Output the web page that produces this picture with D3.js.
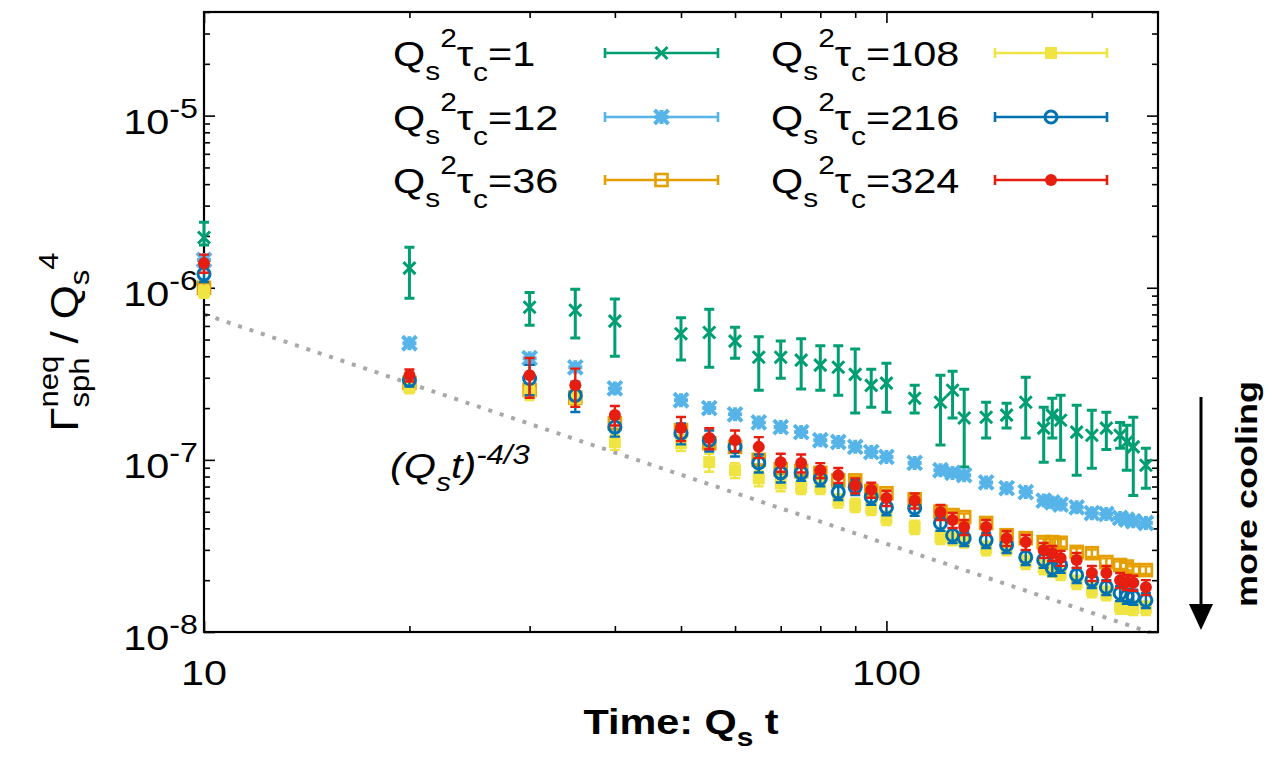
<!DOCTYPE html>
<html><head><meta charset="utf-8">
<script src="https://cdn.jsdelivr.net/npm/d3@7"></script>
<style>body{margin:0;background:#fff} text{font-family:"Liberation Sans",Arial,Helvetica,sans-serif}</style>
</head><body><svg id="c" width="1272" height="760"></svg>
<script>
// ---------------- DATA ----------------
const times = [10,20,30,35,40,50,55,60,65,70,75,80,85,90,95,100,110,120,125,130,140,150,160,170,175,180,190,200,210,220,225,230,240];

const tau1   = [1.96e-6,1.30e-6,7.7e-7,7.4e-7,6.4e-7,5.4e-7,5.5e-7,4.9e-7,3.95e-7,3.95e-7,3.8e-7,3.55e-7,3.45e-7,3.14e-7,2.71e-7,2.79e-7,2.28e-7,2.16e-7,2.54e-7,1.75e-7,1.77e-7,1.82e-7,2.16e-7,1.53e-7,1.82e-7,1.70e-7,1.45e-7,1.39e-7,1.53e-7,1.39e-7,1.27e-7,1.19e-7,9.3e-8];
const tau1Lo = [1.77e-6,8.7e-7,6.05e-7,5.1e-7,4.0e-7,3.8e-7,3.45e-7,3.9e-7,2.54e-7,2.98e-7,2.58e-7,2.54e-7,2.37e-7,1.87e-7,2.02e-7,1.89e-7,1.87e-7,1.22e-7,1.75e-7,9.1e-8,1.34e-7,1.53e-7,1.34e-7,9.7e-8,1.34e-7,9.96e-8,8.15e-8,8.95e-8,1.15e-7,1.17e-7,8.7e-8,6.2e-8,6.85e-8];
const tau1Hi = [2.4e-6,1.72e-6,9.4e-7,9.8e-7,8.6e-7,6.7e-7,7.5e-7,5.9e-7,5.2e-7,4.9e-7,5.05e-7,4.6e-7,4.6e-7,4.4e-7,3.36e-7,3.64e-7,2.71e-7,3.1e-7,3.27e-7,2.57e-7,2.16e-7,2.13e-7,3.02e-7,2.02e-7,2.28e-7,2.37e-7,2.08e-7,1.94e-7,1.89e-7,1.65e-7,1.59e-7,1.77e-7,1.17e-7];

const tau12  = [1.45e-6,4.76e-7,3.9e-7,3.45e-7,2.6e-7,2.22e-7,2.0e-7,1.84e-7,1.65e-7,1.55e-7,1.45e-7,1.30e-7,1.27e-7,1.19e-7,1.11e-7,1.04e-7,9.6e-8,8.7e-8,8.4e-8,8.15e-8,7.4e-8,6.85e-8,6.5e-8,5.8e-8,5.66e-8,5.5e-8,5.3e-8,4.9e-8,4.85e-8,4.6e-8,4.5e-8,4.4e-8,4.3e-8];
const tau12Err = [0.05,0.04,0.05,0.05,0.06,0.05,0.05,0.04,0.04,0.04,0.04,0.04,0.04,0.04,0.04,0.04,0.04,0.04,0.04,0.04,0.04,0.04,0.04,0.04,0.04,0.04,0.04,0.04,0.04,0.04,0.04,0.04,0.04];

const tau36  = [1.0e-6,2.8e-7,2.55e-7,2.3e-7,1.63e-7,1.49e-7,1.25e-7,1.19e-7,1.0e-7,8.8e-8,8.6e-8,8.4e-8,7.6e-8,7.6e-8,6.6e-8,6.4e-8,5.9e-8,5.0e-8,4.78e-8,4.65e-8,4.3e-8,3.65e-8,3.51e-8,3.33e-8,3.33e-8,3.3e-8,2.92e-8,2.87e-8,2.55e-8,2.45e-8,2.4e-8,2.29e-8,2.29e-8];
const tau36Err = [0.06,0.05,0.08,0.08,0.07,0.07,0.06,0.06,0.06,0.06,0.05,0.05,0.05,0.05,0.05,0.05,0.05,0.05,0.05,0.05,0.05,0.05,0.05,0.05,0.05,0.05,0.05,0.05,0.05,0.05,0.05,0.05,0.05];

const tau108 = [9.5e-7,2.65e-7,2.47e-7,2.28e-7,1.27e-7,1.25e-7,9.7e-8,8.7e-8,7.8e-8,7.3e-8,6.95e-8,6.95e-8,5.8e-8,5.46e-8,5.25e-8,4.6e-8,4.07e-8,3.56e-8,3.5e-8,3.4e-8,3.07e-8,3.07e-8,2.55e-8,2.38e-8,2.3e-8,2.2e-8,1.95e-8,1.75e-8,1.68e-8,1.4e-8,1.4e-8,1.38e-8,1.38e-8];
const tau108Err = [0.08,0.08,0.1,0.1,0.1,0.1,0.12,0.1,0.1,0.1,0.09,0.09,0.09,0.09,0.09,0.09,0.09,0.09,0.09,0.09,0.09,0.09,0.09,0.09,0.09,0.09,0.09,0.09,0.09,0.09,0.09,0.09,0.09];

const tau216 = [1.2e-6,2.9e-7,2.97e-7,2.37e-7,1.55e-7,1.43e-7,1.30e-7,1.19e-7,9.6e-8,8.4e-8,8.4e-8,7.8e-8,6.5e-8,6.95e-8,6.1e-8,5.3e-8,5.25e-8,4.3e-8,3.65e-8,3.51e-8,3.42e-8,3.2e-8,2.72e-8,2.62e-8,2.35e-8,2.45e-8,2.14e-8,2.0e-8,1.82e-8,1.68e-8,1.62e-8,1.6e-8,1.53e-8];
const tau216Err = [0.1,0.08,0.2,0.2,0.12,0.14,0.14,0.12,0.12,0.12,0.1,0.1,0.1,0.1,0.1,0.1,0.1,0.1,0.1,0.1,0.1,0.1,0.1,0.1,0.1,0.1,0.1,0.1,0.1,0.1,0.1,0.1,0.1];

const tau324 = [1.39e-6,3.1e-7,3.1e-7,2.71e-7,1.82e-7,1.53e-7,1.34e-7,1.30e-7,1.19e-7,9.7e-8,9.6e-8,8.7e-8,8.15e-8,7.1e-8,6.7e-8,6.0e-8,5.8e-8,4.97e-8,4.47e-8,4.07e-8,4.07e-8,3.51e-8,3.33e-8,2.99e-8,2.87e-8,2.69e-8,2.62e-8,2.2e-8,2.2e-8,2.0e-8,1.95e-8,1.93e-8,1.82e-8];
const tau324Err = [0.12,0.08,0.26,0.25,0.13,0.16,0.14,0.14,0.14,0.12,0.12,0.1,0.1,0.1,0.1,0.1,0.1,0.1,0.1,0.1,0.1,0.1,0.1,0.1,0.1,0.1,0.1,0.1,0.1,0.1,0.1,0.1,0.1];

const seriesLabels = ["1","12","36","108","216","324"];
const seriesColors = ["#009e73","#56b4e9","#e69f00","#f0e442","#0072b2","#e51e10"];
const seriesMarkers = ["x","star","osq","fsq","ocirc","fcirc"];
const xTickLabels = [10,100];
const yTickExps = [-8,-7,-6,-5];
const powerLawAmp = 1.51e-5, powerLawExp = -4/3;

// ---------------- LAYOUT ----------------
const svg = d3.select("#c");
const L=204, R=1158, T=12, B=632;
const x = d3.scaleLog().domain([10,250]).range([L,R]);
const y = d3.scaleLog().domain([1e-8,4e-5]).range([B,T]);
const SX = 1.15;
const NB = "\u00a0";

function rich(parent, px, py, parts, o={}) {
  const anchor=o.anchor||0, rot=o.rotate||0, sx=o.sx||SX;
  const g = parent.append("g").attr("transform",`translate(${px},${py}) rotate(${rot}) scale(${sx},1)`);
  const inner = g.append("g");
  let cx=0, stackStart=0;
  parts.forEach(p=>{
    const start = p.stack ? stackStart : cx;
    const t = inner.append("text").attr("x",start).attr("y",p.dy||0)
      .attr("font-size",p.size).attr("font-weight",p.weight||o.weight||"normal")
      .attr("font-style",p.style||o.style||"normal").attr("fill","#000")
      .style("white-space","pre").text(p.t);
    const w = t.node().getComputedTextLength();
    if (p.stack) cx=Math.max(cx,start+w); else {stackStart=start; cx=start+w;}
  });
  inner.attr("transform",`translate(${-cx*anchor},0)`);
  return g;
}

// power law dotted line
svg.append("clipPath").attr("id","clip").append("rect").attr("x",L).attr("y",T).attr("width",R-L).attr("height",B-T);
const plTimes = d3.range(0,121).map(i=>10*Math.pow(25,i/120));
svg.append("path").attr("clip-path","url(#clip)")
  .attr("d", d3.line().x(t=>x(t)).y(t=>y(powerLawAmp*Math.pow(t,powerLawExp)))(plTimes))
  .attr("fill","none").attr("stroke","#a8a8a8").attr("stroke-width",4).attr("stroke-dasharray","4 8");

// axes (ticks inward, mirrored)
const xMajor=[10,100], xMinor=[20,30,40,50,60,70,80,90,200];
const yMajor=[1e-8,1e-7,1e-6,1e-5], yMinor=[];
for (let e=-8;e<=-5;e++) for (let m=2;m<=9;m++){const v=m*Math.pow(10,e); if(v<=4e-5) yMinor.push(v);}
function ax(gen, scale, vals, size, tr){
  svg.append("g").attr("transform",tr).call(gen(scale).tickValues(vals).tickSize(-size).tickFormat(""))
   .call(g=>{g.select(".domain").remove(); g.selectAll("line").attr("stroke","#000").attr("stroke-width",1.6);});
}
ax(d3.axisBottom,x,xMajor,11,`translate(0,${B})`); ax(d3.axisBottom,x,xMinor,6,`translate(0,${B})`);
ax(d3.axisTop,x,xMajor,11,`translate(0,${T})`); ax(d3.axisTop,x,xMinor,6,`translate(0,${T})`);
ax(d3.axisLeft,y,yMajor,11,`translate(${L},0)`); ax(d3.axisLeft,y,yMinor,6,`translate(${L},0)`);
ax(d3.axisRight,y,yMajor,11,`translate(${R},0)`); ax(d3.axisRight,y,yMinor,6,`translate(${R},0)`);
svg.append("rect").attr("x",L).attr("y",T).attr("width",R-L).attr("height",B-T).attr("fill","none").attr("stroke","#000").attr("stroke-width",2.2);

// tick labels
xTickLabels.forEach(v=>rich(svg,x(v),685,[{t:String(v),size:36}],{anchor:0.5}));
yTickExps.forEach(e=>rich(svg,198,y(Math.pow(10,e))+18,[{t:"10",size:36},{t:String(e),size:28,dy:-16}],{anchor:1}));

// axis titles
rich(svg,681,734,[{t:"Time:"+NB+"Q",size:36},{t:"s",size:26,dy:12},{t:NB+"t",size:36}],{anchor:0.5,weight:"bold"});
rich(svg,78,342,[{t:"Γ",size:38},{t:"neq",size:27,dy:-20},{t:"sph",size:27,dy:11,stack:true},{t:NB+"/"+NB+"Q",size:38},{t:"s",size:27,dy:11},{t:"4",size:27,dy:-20}],{anchor:0.5,rotate:-90});

// annotation
rich(svg,390,478,[{t:"(Q",size:36},{t:"s",size:26,dy:13},{t:"t)",size:36},{t:"-4/3",size:27,dy:-14}],{style:"italic"});

// more cooling
rich(svg,1257,494,[{t:"more cooling",size:30}],{anchor:0.5,rotate:-90,weight:"bold",sx:1.2});
svg.append("line").attr("x1",1201).attr("x2",1201).attr("y1",397).attr("y2",610).attr("stroke","#000").attr("stroke-width",3);
svg.append("path").attr("d","M1189,604 L1213,604 L1201,630 Z").attr("fill","#000");

// markers
function marker(g, type, cx, cy, col){
  if(type==="x"){
    g.append("path").attr("d",`M${cx-6},${cy-6}L${cx+6},${cy+6}M${cx-6},${cy+6}L${cx+6},${cy-6}`).attr("stroke",col).attr("stroke-width",3);
  } else if(type==="star"){
    g.append("path").attr("d",`M${cx-7},${cy-7}L${cx+7},${cy+7}M${cx-7},${cy+7}L${cx+7},${cy-7}M${cx-7},${cy}L${cx+7},${cy}M${cx},${cy-7}L${cx},${cy+7}`).attr("stroke",col).attr("stroke-width",4);
  } else if(type==="osq"){
    g.append("rect").attr("x",cx-6).attr("y",cy-6).attr("width",12).attr("height",12).attr("fill","none").attr("stroke",col).attr("stroke-width",2.6);
  } else if(type==="fsq"){
    g.append("rect").attr("x",cx-6).attr("y",cy-6).attr("width",12).attr("height",12).attr("fill",col);
  } else if(type==="ocirc"){
    g.append("circle").attr("cx",cx).attr("cy",cy).attr("r",6).attr("fill","none").attr("stroke",col).attr("stroke-width",3);
  } else {
    g.append("circle").attr("cx",cx).attr("cy",cy).attr("r",6).attr("fill",col);
  }
}
function errbar(g, cx, lo, hi, col, w){
  g.append("path").attr("d",`M${cx},${lo}L${cx},${hi}M${cx-5},${lo}L${cx+5},${lo}M${cx-5},${hi}L${cx+5},${hi}`)
   .attr("stroke",col).attr("stroke-width",w).attr("fill","none");
}

const seriesVals=[tau1,tau12,tau36,tau108,tau216,tau324];
const seriesErr=[null,tau12Err,tau36Err,tau108Err,tau216Err,tau324Err];
seriesVals.forEach((vals,si)=>{
  const g=svg.append("g"); const col=seriesColors[si];
  vals.forEach((v,i)=>{
    const cx=x(times[i]);
    let lo,hi;
    if(si===0){lo=tau1Lo[i]; hi=tau1Hi[i];} else {lo=v*(1-seriesErr[si][i]); hi=v*(1+seriesErr[si][i]);}
    errbar(g,cx,y(lo),y(hi),col,si===0?3:2.4);
    marker(g,seriesMarkers[si],cx,y(v),col);
  });
});

// legend
const legRows=[53,117,180];
seriesLabels.forEach((lab,i)=>{
  const col=i<3?0:1, row=i%3, ly=legRows[row];
  const tx = col===0?393:771, s0=col===0?605:995, s1=col===0?718:1107;
  rich(svg,tx,ly+13,[{t:"Q",size:36},{t:"s",size:26,dy:14},{t:"2",size:26,dy:-19},{t:"τ",size:36},{t:"c",size:26,dy:15},{t:"="+lab,size:36}]);
  const g=svg.append("g"); const c=seriesColors[i];
  g.append("path").attr("d",`M${s0},${ly}L${s1},${ly}M${s0},${ly-5}L${s0},${ly+5}M${s1},${ly-5}L${s1},${ly+5}`).attr("stroke",c).attr("stroke-width",2.6);
  marker(g,seriesMarkers[i],(s0+s1)/2,ly,c);
});
</script></body></html>
